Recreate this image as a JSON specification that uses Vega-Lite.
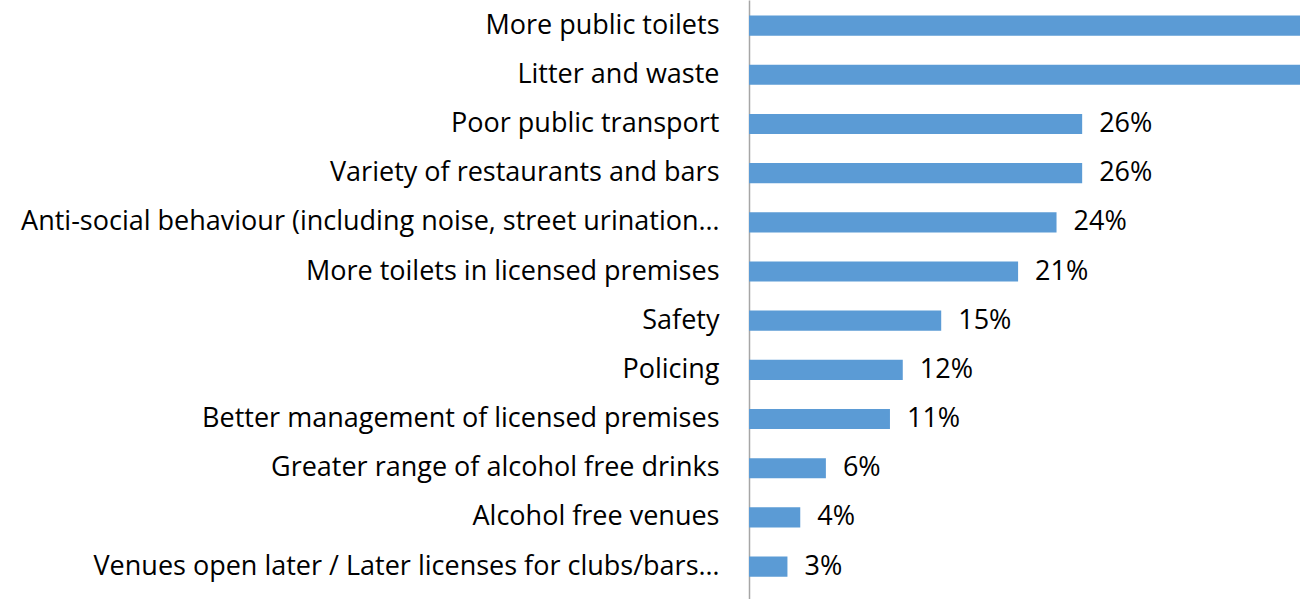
{
  "$schema": "https://vega.github.io/schema/vega-lite/v6.json",
  "autosize": "none",
  "width": 551,
  "height": 599,
  "padding": {"left": 749, "top": 0, "right": 8, "bottom": 0},
  "background": "white",
  "config": {"view": {"stroke": null}, "font": "Open Sans"},
  "data": {
    "values": [
      {"issue": "More public toilets", "share": 0.48},
      {"issue": "Litter and waste", "share": 0.46},
      {"issue": "Poor public transport", "share": 0.26},
      {"issue": "Variety of restaurants and bars", "share": 0.26},
      {"issue": "Anti-social behaviour (including noise, street urination…", "share": 0.24},
      {"issue": "More toilets in licensed premises", "share": 0.21},
      {"issue": "Safety", "share": 0.15},
      {"issue": "Policing", "share": 0.12},
      {"issue": "Better management of licensed premises", "share": 0.11},
      {"issue": "Greater range of alcohol free drinks", "share": 0.06},
      {"issue": "Alcohol free venues", "share": 0.04},
      {"issue": "Venues open later / Later licenses for clubs/bars…", "share": 0.03}
    ]
  },
  "encoding": {
    "y": {
      "field": "issue",
      "type": "nominal",
      "sort": null,
      "scale": {"paddingInner": 0.59, "paddingOuter": 0.385, "align": 0.41},
      "axis": {
        "title": null,
        "ticks": false,
        "labelPadding": 30,
        "labelLimit": 800,
        "labelFontSize": 27,
        "labelFont": "Open Sans",
        "labelColor": "#000000",
        "domainColor": "#a6a6a6",
        "domainWidth": 1.5
      }
    },
    "x": {
      "field": "share",
      "type": "quantitative",
      "scale": {"domain": [0, 0.43], "nice": false, "zero": true},
      "axis": null
    }
  },
  "layer": [
    {"mark": {"type": "bar", "color": "#5b9bd5", "clip": true}},
    {
      "transform": [{"filter": "datum.share <= 0.43"}],
      "mark": {"type": "text", "align": "left", "baseline": "middle", "dx": 17, "fontSize": 27, "font": "Open Sans", "color": "#000000"},
      "encoding": {"text": {"field": "share", "type": "quantitative", "format": ".0%"}}
    }
  ]
}
